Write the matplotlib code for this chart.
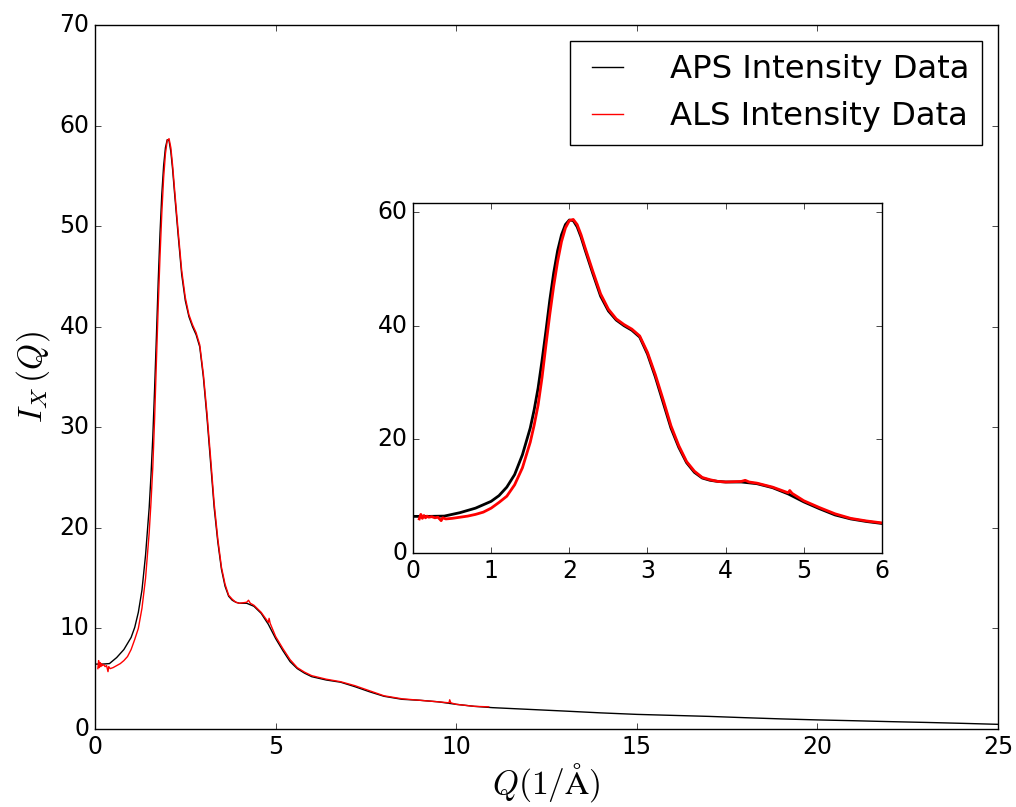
import numpy as np
import matplotlib
matplotlib.use('Agg')
import matplotlib.pyplot as plt

plt.style.use('classic')

# APS intensity data
q_aps = [0.0, 0.2, 0.4, 0.6, 0.8, 1.0, 1.1, 1.2, 1.3, 1.4, 1.5, 1.55, 1.6,
         1.65, 1.7, 1.75, 1.8, 1.85, 1.9, 1.95, 2.0, 2.05, 2.1, 2.15, 2.2,
         2.25, 2.3, 2.4, 2.5, 2.6, 2.7, 2.8, 2.9,
         3.0, 3.1, 3.2, 3.3, 3.4, 3.5, 3.6, 3.7, 3.8, 3.9, 4.0, 4.2, 4.4, 4.6,
         4.8, 5.0, 5.2, 5.4, 5.6, 5.8, 6.0, 6.4, 6.8, 7.2, 7.6, 8.0, 8.5, 9.0,
         9.5, 10.0, 10.5, 11.0, 12.0, 13.0, 14.0, 15.0, 16.0, 17.0, 18.0,
         19.0, 20.0, 21.0, 22.0, 23.0, 24.0, 25.0]
i_aps = [6.45, 6.45, 6.5, 7.1, 7.9, 9.1, 10.1, 11.6, 13.8, 17.3, 22.0, 25.2,
         29.0, 33.8, 39.0, 44.5, 49.3, 53.2, 56.0, 57.8, 58.6, 58.5, 57.4,
         55.6, 53.4, 51.3, 49.2, 45.2, 42.6,
         41.0, 40.0, 39.2, 38.0, 35.0, 31.0, 26.5, 22.0, 18.6, 15.9, 14.2,
         13.2, 12.8, 12.6, 12.5, 12.5, 12.2, 11.5, 10.4, 9.0, 7.8, 6.7, 6.0,
         5.55, 5.2, 4.87, 4.65, 4.2, 3.7, 3.25, 2.95, 2.85, 2.7, 2.45, 2.25,
         2.12, 1.95, 1.78, 1.6, 1.45, 1.35, 1.25, 1.12, 1.0, 0.9, 0.82, 0.73,
         0.65, 0.56, 0.46]

# ALS intensity data
q_als = [0.08, 0.1, 0.12, 0.14, 0.16, 0.18, 0.2, 0.24, 0.28, 0.32, 0.36, 0.38,
         0.42, 0.5, 0.6, 0.7, 0.8, 0.9, 1.0, 1.1, 1.2, 1.3, 1.4, 1.5, 1.55,
         1.6, 1.65, 1.7, 1.75, 1.8, 1.85, 1.9, 1.95, 2.0, 2.05, 2.1, 2.15,
         2.2, 2.25, 2.3, 2.4, 2.5, 2.6, 2.7,
         2.8, 2.9, 3.0, 3.1, 3.2, 3.3, 3.4, 3.5, 3.6, 3.7, 3.8, 3.9, 4.0, 4.2,
         4.25, 4.3, 4.4, 4.6, 4.8, 4.82, 4.85, 5.0, 5.2, 5.4, 5.6, 5.8, 6.0,
         6.4, 6.8, 7.2, 7.6, 8.0, 8.5, 9.0, 9.5, 9.8, 9.82, 9.85, 10.0, 10.5,
         10.9]
i_als = [6.0, 6.8, 6.1, 6.6, 6.2, 6.5, 6.3, 6.4, 6.2, 6.3, 5.7, 6.2, 6.0, 6.1,
         6.3, 6.5, 6.8, 7.2, 7.9, 8.9, 10.0, 12.0, 15.0, 19.5, 22.5, 26.0,
         30.8, 36.5, 42.0, 47.0, 51.3, 54.8, 57.2, 58.5, 58.7, 57.8, 56.0,
         53.8, 51.7, 49.6, 45.6, 42.9, 41.2,
         40.2, 39.4, 38.2, 35.3, 31.4, 27.0, 22.4, 18.9, 16.1, 14.4, 13.3,
         12.9, 12.6, 12.5, 12.6, 12.8, 12.5, 12.3, 11.6, 10.6, 11.0, 10.5,
         9.2, 8.0, 6.9, 6.1, 5.65, 5.3, 4.95, 4.7, 4.3, 3.8, 3.3, 3.0, 2.85,
         2.7, 2.6, 2.9, 2.6, 2.45, 2.25, 2.2]

fig = plt.figure(figsize=(10.16, 8.07), dpi=100, facecolor='white')
ax = fig.add_axes([0.0935, 0.0967, 0.8888, 0.8723])
ax.plot(q_aps, i_aps, color='black', linewidth=1, label='APS Intensity Data')
ax.plot(q_als, i_als, color='red', linewidth=1, label='ALS Intensity Data')
ax.set_xlim(0, 25)
ax.set_ylim(0, 70)
ax.tick_params(labelsize=17)
ax.set_xlabel(r'$Q(1/\mathrm{\AA})$', fontsize=24, labelpad=2)
ax.set_ylabel(r'$I_X\,(Q)$', fontsize=24)
ax.legend(loc='upper right', fontsize=23.2, handlelength=1.55,
          handletextpad=1.15)

# inset zoom on the low-Q region
axin = fig.add_axes([0.4065, 0.3147, 0.4616, 0.4338])
axin.plot(q_aps, i_aps, color='black', linewidth=2)
axin.plot(q_als, i_als, color='red', linewidth=2)
axin.set_xlim(0, 6)
axin.set_ylim(0, 61.6)
axin.set_yticks([0, 20, 40, 60])
axin.tick_params(labelsize=17)

fig.savefig('out.png', dpi=100, facecolor='white')
